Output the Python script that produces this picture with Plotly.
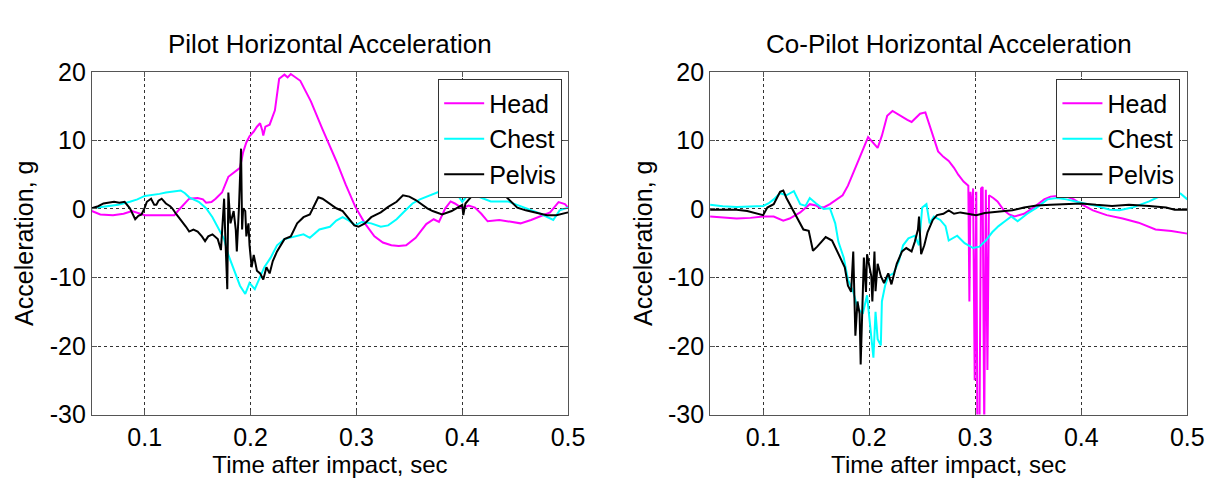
import plotly.graph_objects as go

# ---------------- data ----------------
panel_titles = ["Pilot Horizontal Acceleration", "Co-Pilot Horizontal Acceleration"]
x_label = "Time after impact, sec"
y_label = "Acceleration, g"
series_names = ["Head", "Chest", "Pelvis"]
x_tick_vals = [0.1, 0.2, 0.3, 0.4, 0.5]
x_tick_text = ["0.1", "0.2", "0.3", "0.4", "0.5"]
y_tick_vals = [20, 10, 0, -10, -20, -30]
y_tick_text = ["20", "10", "0", "-10", "-20", "-30"]

# Pilot
pilot_head_t = [0.05, 0.058, 0.07, 0.08, 0.088, 0.095, 0.1, 0.115, 0.128, 0.133, 0.142, 0.15, 0.155, 0.158,
                0.163, 0.167, 0.173, 0.179, 0.187, 0.19, 0.193, 0.196, 0.199, 0.203, 0.206, 0.209, 0.211,
                0.212, 0.214, 0.218, 0.223, 0.227, 0.232, 0.235, 0.238, 0.241, 0.247, 0.252, 0.257, 0.268,
                0.281, 0.29, 0.299, 0.308, 0.317, 0.325, 0.333, 0.34, 0.347, 0.356, 0.366, 0.373, 0.378,
                0.384, 0.389, 0.393, 0.4, 0.406, 0.412, 0.418, 0.424, 0.435, 0.443, 0.455, 0.465, 0.474,
                0.483, 0.491, 0.497, 0.5]
pilot_head_v = [-0.3, -0.8, -0.9, -0.7, -0.3, -0.6, -0.9, -0.9, -0.9, 0.0, 1.5, 1.6, 1.4, 0.9,
                1.0, 1.5, 2.4, 4.7, 5.6, 6.0, 8.3, 9.7, 10.6, 11.3, 12.0, 12.5, 11.5,
                10.7, 12.0, 12.3, 14.4, 19.0, 19.6, 19.2, 19.7, 19.4, 18.7, 17.2, 15.7, 11.6,
                7.0, 3.5, 0.3, -2.1, -4.0, -4.9, -5.3, -5.4, -5.3, -4.2, -2.2, -1.5, -1.9,
                0.1, 1.1, 0.8, 0.1, 0.5, 0.2, -0.7, -1.8, -1.6, -1.8, -2.1, -1.6, -1.1,
                -0.5, 1.0, 0.7, 0.2]

pilot_chest_t = [0.05, 0.064, 0.075, 0.086, 0.093, 0.1, 0.107, 0.114, 0.12, 0.127, 0.134, 0.138, 0.142,
                 0.151, 0.158, 0.164, 0.17, 0.175, 0.179, 0.186, 0.19, 0.195, 0.199, 0.204, 0.209, 0.213,
                 0.219, 0.225, 0.232, 0.241, 0.25, 0.256, 0.265, 0.275, 0.281, 0.287, 0.293, 0.299, 0.305,
                 0.314, 0.323, 0.33, 0.338, 0.345, 0.353, 0.36, 0.369, 0.375, 0.381, 0.39, 0.395, 0.4,
                 0.405, 0.412, 0.42, 0.427, 0.443, 0.455, 0.465, 0.474, 0.486, 0.492, 0.5]
pilot_chest_v = [0.1, 0.4, 0.6, 1.05, 1.4, 1.9, 2.0, 2.2, 2.4, 2.5, 2.7, 2.3, 1.7,
                 1.05, 0.1, -1.2, -3.0, -4.4, -6.7, -9.4, -11.2, -12.4, -10.8, -11.7, -9.9, -8.5,
                 -7.1, -5.3, -4.4, -4.0, -3.7, -4.2, -3.0, -2.6, -1.7, -1.2, -1.7, -2.4, -1.9,
                 -2.1, -2.6, -2.4, -1.5, -0.4, 0.8, 1.4, 2.0, 2.3, 2.7, 2.9, 2.2, 1.05,
                 2.0, 2.0, 1.5, 1.1, 1.1, 0.4, -0.1, -0.7, -1.6, -0.2, 0.2]

pilot_pelvis_t = [0.05, 0.056, 0.061, 0.066, 0.071, 0.076, 0.081, 0.086, 0.091, 0.094, 0.097, 0.1, 0.102,
                  0.106, 0.109, 0.111, 0.113, 0.116, 0.12, 0.124, 0.126, 0.13, 0.133, 0.136, 0.139, 0.142,
                  0.146, 0.15, 0.154, 0.157, 0.16, 0.164, 0.169, 0.172, 0.175, 0.176, 0.178, 0.179, 0.181,
                  0.184, 0.186, 0.187, 0.189, 0.191, 0.192, 0.193, 0.195, 0.196, 0.198, 0.199, 0.201, 0.203,
                  0.206, 0.209, 0.212, 0.215, 0.218, 0.221, 0.225, 0.232, 0.238, 0.244, 0.25, 0.256, 0.261,
                  0.264, 0.268, 0.275, 0.281, 0.287, 0.293, 0.298, 0.302, 0.308, 0.314, 0.323, 0.33, 0.338,
                  0.344, 0.35, 0.356, 0.362, 0.367, 0.372, 0.381, 0.39, 0.396, 0.4, 0.401, 0.403, 0.407,
                  0.412, 0.418, 0.425, 0.434, 0.443, 0.452, 0.46, 0.468, 0.48, 0.489, 0.495, 0.5]
pilot_pelvis_v = [0.1, 0.4, 0.8, 0.9, 1.05, 0.9, 1.05, 0.1, -1.5, -1.0, -0.8, 0.2, 1.05,
                  1.5, 0.6, 0.6, 1.2, 1.5, 0.8, 0.4, 0.1, -0.8, -1.4, -1.9, -2.6, -3.3,
                  -3.0, -3.3, -4.0, -4.7, -4.0, -3.7, -4.4, -6.0, 1.5, -3.5, -11.7, 2.4, -2.1,
                  -0.3, -3.0, -6.2, 0.1, 8.8, -3.0, 0.1, -0.3, -4.0, -2.1, -5.3, -8.5, -6.7,
                  -9.0, -9.4, -10.3, -8.5, -9.4, -7.6, -6.2, -4.4, -4.0, -2.1, -1.2, -0.8, 0.8,
                  1.7, 1.5, 0.8, 0.1, -0.3, -1.5, -2.4, -2.6, -2.1, -1.2, -0.5, 0.3, 1.05,
                  2.0, 1.8, 1.3, 0.6, 0.1, -0.3, -0.8, -0.3, 0.3, 0.6, -0.9, 0.8, 1.5,
                  2.4, 2.8, 3.0, 2.9, 1.5, 0.2, -0.2, -0.5, -0.9, -0.9, -0.7, -0.5]

# Co-Pilot
copilot_head_t = [0.05, 0.062, 0.075, 0.088, 0.1, 0.11, 0.119, 0.125, 0.135, 0.144, 0.15, 0.153, 0.158,
                  0.163, 0.17, 0.175, 0.18, 0.184, 0.191, 0.195, 0.199, 0.203, 0.208, 0.212, 0.217, 0.222,
                  0.226, 0.231, 0.236, 0.24, 0.244, 0.248, 0.253, 0.259, 0.265, 0.27, 0.275, 0.28, 0.284,
                  0.289, 0.2935, 0.2945, 0.2955, 0.297, 0.298, 0.2995, 0.301, 0.302, 0.304, 0.3055, 0.307,
                  0.3085, 0.31, 0.3115, 0.313, 0.317, 0.321, 0.327, 0.332, 0.337, 0.346, 0.355, 0.365,
                  0.371, 0.383, 0.393, 0.4, 0.411, 0.424, 0.439, 0.454, 0.47, 0.485, 0.5]
copilot_head_v = [-1.1, -1.2, -1.4, -1.3, -1.1, -1.1, -1.7, -1.4, -0.5, 0.7, 0.5, 0.2, 0.3,
                  0.7, 1.4, 2.0, 3.4, 4.8, 7.5, 9.0, 10.5, 9.8, 8.9, 10.7, 13.6, 14.3,
                  13.9, 13.4, 13.0, 12.7, 13.3, 13.9, 14.1, 11.1, 8.4, 7.6, 7.0, 6.0, 5.0,
                  4.0, 3.4, -13.5, 2.5, -1.0, 3.0, -25.0, 2.5, -32.0, -32.0, 3.0, 3.2,
                  -32.0, 2.8, -23.5, 2.0, 1.6, 1.1, -0.2, -0.8, -1.1, -0.7, 0.2, 1.4,
                  1.8, 2.0, 1.4, 0.7, -0.2, -0.9, -1.4, -2.0, -3.0, -3.2, -3.6]

copilot_chest_t = [0.05, 0.062, 0.075, 0.088, 0.1, 0.105, 0.11, 0.116, 0.122, 0.129, 0.135, 0.14, 0.144,
                   0.15, 0.157, 0.163, 0.168, 0.171, 0.176, 0.18, 0.185, 0.189, 0.194, 0.198, 0.202, 0.204,
                   0.206, 0.208, 0.211, 0.212, 0.215, 0.218, 0.223, 0.228, 0.232, 0.237, 0.243, 0.247, 0.25,
                   0.254, 0.257, 0.261, 0.267, 0.272, 0.275, 0.283, 0.29, 0.298, 0.304, 0.31, 0.316, 0.322,
                   0.328, 0.334, 0.34, 0.349, 0.358, 0.368, 0.377, 0.386, 0.4, 0.414, 0.427, 0.436, 0.448,
                   0.464, 0.476, 0.488, 0.494, 0.5]
copilot_chest_v = [0.6, 0.4, 0.3, 0.4, 0.45, 0.8, 1.4, 2.3, 2.0, 2.6, 0.7, 0.45, 1.6,
                   0.8, 0.0, 0.1, -2.1, -4.8, -7.1, -10.3, -12.1, -14.4, -15.3, -12.6, -18.1, -21.7,
                   -15.0, -19.0, -19.9, -13.5, -11.2, -9.8, -9.4, -7.6, -5.3, -4.3, -3.9, -5.3, 0.2,
                   0.7, -2.1, -1.1, -1.6, -2.5, -4.6, -3.9, -5.0, -5.7, -5.5, -4.6, -3.4, -2.5,
                   -1.8, -1.1, -1.8, -0.7, 0.2, 1.4, 1.6, 1.4, 0.9, 0.45, -0.1, -0.2, 0.2,
                   1.1, 2.0, 2.6, 2.2, 1.4]

copilot_pelvis_t = [0.05, 0.062, 0.075, 0.085, 0.094, 0.1, 0.104, 0.11, 0.116, 0.119, 0.122, 0.127, 0.132,
                    0.138, 0.143, 0.147, 0.151, 0.155, 0.159, 0.165, 0.171, 0.177, 0.18, 0.183, 0.185, 0.187,
                    0.189, 0.191, 0.192, 0.194, 0.195, 0.197, 0.198, 0.202, 0.203, 0.205, 0.206, 0.208, 0.211,
                    0.214, 0.218, 0.221, 0.226, 0.231, 0.235, 0.24, 0.243, 0.246, 0.247, 0.249, 0.252, 0.255,
                    0.26, 0.264, 0.27, 0.275, 0.28, 0.286, 0.295, 0.301, 0.309, 0.316, 0.325, 0.335, 0.346,
                    0.358, 0.371, 0.386, 0.4, 0.414, 0.429, 0.445, 0.464, 0.48, 0.488, 0.5]
copilot_pelvis_v = [-0.1, -0.1, -0.1, -0.3, -0.7, -0.9, 0.2, 0.7, 2.5, 2.7, 1.6, 0.2, -1.1,
                    -3.0, -3.2, -6.1, -5.5, -4.8, -4.1, -4.6, -6.6, -8.5, -11.2, -12.1, -6.2, -18.5,
                    -13.5, -15.3, -22.7, -13.5, -7.1, -12.1, -6.6, -9.8, -13.5, -6.2, -12.0, -8.0, -9.8,
                    -10.8, -9.4, -11.0, -8.0, -6.2, -5.7, -6.2, -4.8, -3.0, -1.1, -6.6, -5.3, -3.4,
                    -1.6, -0.9, -0.7, -0.2, -0.7, -0.5, -0.7, -0.9, -0.6, -0.5, -0.3, -0.2, 0.2,
                    0.5, 0.6, 0.7, 0.8, 0.6, 0.45, 0.6, 0.45, 0.2, -0.1, -0.1]

series_colors = ["#FF00FF", "#00FFFF", "#000000"]

# ---------------- figure ----------------
FONT = "Liberation Sans, Arial, sans-serif"
W, H = 1220, 478
fig = go.Figure()

panels = [
    ([(pilot_head_t, pilot_head_v), (pilot_chest_t, pilot_chest_v), (pilot_pelvis_t, pilot_pelvis_v)],
     "x", "y", "legend"),
    ([(copilot_head_t, copilot_head_v), (copilot_chest_t, copilot_chest_v), (copilot_pelvis_t, copilot_pelvis_v)],
     "x2", "y2", "legend2"),
]
for series, xa, ya, lg in panels:
    for (t, v), name, col in zip(series, series_names, series_colors):
        fig.add_trace(go.Scatter(x=t, y=v, mode="lines", name=name, xaxis=xa, yaxis=ya, legend=lg,
                                 line=dict(color=col, width=2)))

ydom = [1 - 417 / H, 1 - 53 / H]
xdoms = [[85 / W, 568 / W], [712 / W, 1196 / W]]

axis_common = dict(showline=True, linecolor="#555555", linewidth=1, mirror="ticks",
                   ticks="inside", ticklen=5, tickcolor="#555555",
                   showgrid=True, gridcolor="#333333", griddash="dot", gridwidth=1,
                   zeroline=False, tickfont=dict(family=FONT, size=25, color="#000000"))

layout = dict(width=W, height=H, margin=dict(l=0, r=0, t=0, b=0, pad=0),
              paper_bgcolor="white", plot_bgcolor="white",
              font=dict(family=FONT, size=25, color="#000000"))
for i, (xd, sfx) in enumerate(zip(xdoms, ["", "2"])):
    layout["xaxis" + sfx] = dict(axis_common, domain=xd, range=[0.05, 0.5], tickvals=x_tick_vals,
                                 ticktext=x_tick_text, anchor="y" + sfx,
                                 title=dict(text=x_label, standoff=0, font=dict(family=FONT, size=24)))
    layout["yaxis" + sfx] = dict(axis_common, domain=ydom, range=[-30, 20], tickvals=y_tick_vals,
                                 ticktext=y_tick_text, anchor="x" + sfx,
                                 title=dict(text=y_label, standoff=8, font=dict(family=FONT, size=25)))

legend_common = dict(yanchor="top", xanchor="right", bgcolor="white", bordercolor="#333333",
                     borderwidth=1, font=dict(family=FONT, size=25, color="#000000"),
                     itemwidth=40, tracegroupgap=0)
layout["legend"] = dict(legend_common, x=562 / W, y=1 - 61 / H)
layout["legend2"] = dict(legend_common, x=1189 / W, y=1 - 61 / H)

annotations = []
for xd, txt in zip(xdoms, panel_titles):
    annotations.append(dict(text=txt, xref="paper", yref="paper", x=(xd[0] + xd[1]) / 2, y=1 - 23 / H,
                            xanchor="center", yanchor="middle", showarrow=False,
                            font=dict(family=FONT, size=26, color="#000000")))
layout["annotations"] = annotations
fig.update_layout(**layout)

fig.write_html("out.html")
